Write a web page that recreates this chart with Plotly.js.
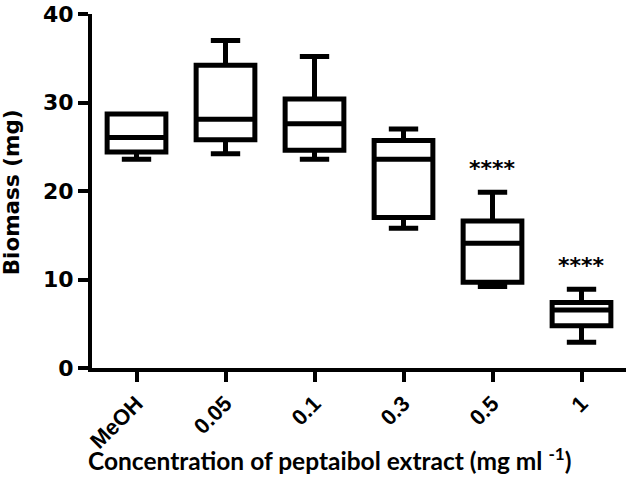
<!DOCTYPE html>
<html>
<head>
<meta charset="utf-8">
<script src="https://cdn.plot.ly/plotly-3.0.1.min.js"></script>
<style>html,body{margin:0;padding:0;background:#fff;}#chart{width:630px;height:492px;}</style>
</head>
<body>
<div id="chart"></div>
<script>
var categories = ["MeOH", "0.05", "0.1", "0.3", "0.5", "1"];
var lowerWhisker = [23.6, 24.2, 23.6, 15.8, 9.2, 2.9];
var q1Values = [24.4, 25.8, 24.6, 17.0, 9.7, 4.77];
var medianValues = [26.05, 28.1, 27.6, 23.6, 14.1, 6.55];
var q3Values = [28.7, 34.2, 30.4, 25.7, 16.6, 7.4];
var upperWhisker = [28.7, 37.0, 35.2, 27.0, 19.85, 8.9];
var starCategories = ["0.5", "1"];
var starLabels = ["****", "****"];
var starY = [22.5, 11.6];

var trace = {
  type: "box",
  x: categories,
  q1: q1Values,
  median: medianValues,
  q3: q3Values,
  lowerfence: lowerWhisker,
  upperfence: upperWhisker,
  boxpoints: false,
  width: 0.66,
  whiskerwidth: 0.5,
  fillcolor: "#ffffff",
  line: {color: "#000000", width: 5},
  hoverinfo: "skip",
  showlegend: false
};

var annotations = [];
for (var i = 0; i < starCategories.length; i++) {
  annotations.push({
    x: categories.indexOf(starCategories[i]), y: starY[i], xref: "x", yref: "y",
    text: starLabels[i], showarrow: false,
    font: {family: "DejaVu Sans, sans-serif", size: 22, color: "#000", weight: "bold"},
    xanchor: "center", yanchor: "middle"
  });
}
annotations.push({
  xref: "paper", yref: "paper", x: -0.15, y: 0.496,
  text: "<b>Biomass (mg)</b>", textangle: -90, showarrow: false,
  font: {family: "DejaVu Sans, sans-serif", size: 21.5, color: "#000"},
  xanchor: "center", yanchor: "middle"
});
annotations.push({
  xref: "paper", yref: "paper", x: 0.444, y: -0.258,
  text: "<b>Concentration of peptaibol extract (mg ml <sup>-1</sup>)</b>", showarrow: false,
  font: {family: "Lato, sans-serif", size: 24.5, color: "#000"},
  xanchor: "center", yanchor: "middle"
});

var layout = {
  width: 630, height: 492,
  margin: {l: 92, r: 4, t: 14, b: 124},
  paper_bgcolor: "#fff", plot_bgcolor: "#fff",
  showlegend: false,
  xaxis: {
    type: "category",
    range: [-0.5, 5.5],
    showgrid: false, zeroline: false,
    showline: true, linecolor: "#000", linewidth: 4,
    ticks: "outside", ticklen: 10, tickwidth: 4, tickcolor: "#000",
    tickangle: -45,
    tickfont: {family: "Liberation Sans, Arial, sans-serif", size: 22, color: "#000", weight: "bold"}
  },
  yaxis: {
    range: [0, 40],
    tickvals: [0, 10, 20, 30, 40],
    showgrid: false, zeroline: false,
    showline: true, linecolor: "#000", linewidth: 4,
    ticks: "outside", ticklen: 10, tickwidth: 4, tickcolor: "#000",
    tickfont: {family: "DejaVu Sans, sans-serif", size: 22, color: "#000", weight: "bold"}
  },
  annotations: annotations
};

Plotly.newPlot("chart", [trace], layout, {displayModeBar: false, staticPlot: true});
</script>
</body>
</html>
